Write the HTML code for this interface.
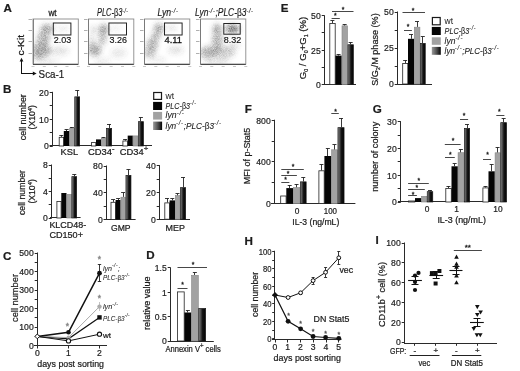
<!DOCTYPE html>
<html><head><meta charset="utf-8"><style>
html,body{margin:0;padding:0;background:#fff;}
svg{display:block;font-family:"Liberation Sans",sans-serif;will-change:transform;}
text{stroke-width:0.22px;}
</style></head><body>
<svg width="520" height="371" viewBox="0 0 520 371">
<rect width="520" height="371" fill="#fff"/>
<defs>
<linearGradient id="dg" x1="0" x2="1" y1="0" y2="0">
<stop offset="0" stop-color="#8c8c8c"/><stop offset="0.3" stop-color="#4a4a4a"/><stop offset="0.55" stop-color="#151515"/><stop offset="1" stop-color="#030303"/>
</linearGradient>
<linearGradient id="dgl" x1="0" x2="1" y1="0" y2="0">
<stop offset="0" stop-color="#9a9a9a"/><stop offset="0.5" stop-color="#555"/><stop offset="1" stop-color="#050505"/>
</linearGradient>
<filter id="blur" x="-20%" y="-20%" width="140%" height="140%"><feGaussianBlur in="SourceGraphic" stdDeviation="2.6" result="b"/><feTurbulence type="fractalNoise" baseFrequency="1.6" numOctaves="1" seed="7" result="n"/><feColorMatrix in="n" type="matrix" values="0 0 0 0 0  0 0 0 0 0  0 0 0 0 0  1.0 0 0 0 0.12" result="na"/><feComposite in="b" in2="na" operator="in" result="c"/><feGaussianBlur in="c" stdDeviation="0.45"/></filter>
<clipPath id="clipA0"><rect x="33" y="19" width="45.3" height="45"/></clipPath><clipPath id="clipA1"><rect x="88.5" y="19" width="45.3" height="45"/></clipPath><clipPath id="clipA2"><rect x="144.5" y="19" width="45.3" height="45"/></clipPath><clipPath id="clipA3"><rect x="200.5" y="19" width="45.3" height="45"/></clipPath></defs>
<text x="3.4" y="11.6" font-size="11.6" text-anchor="start" fill="#1c1c1c" stroke="#1c1c1c" font-weight="bold">A</text>
<g filter="url(#blur)" clip-path="url(#clipA0)">
<ellipse cx="47" cy="28.5" rx="6.5" ry="4" fill="#333" opacity="0.68" transform="rotate(0 47 28.5)"/>
<ellipse cx="43.5" cy="38" rx="6.5" ry="7" fill="#333" opacity="0.544" transform="rotate(15 43.5 38)"/>
<ellipse cx="41" cy="50" rx="9.5" ry="7.5" fill="#333" opacity="0.612" transform="rotate(0 41 50)"/>
<ellipse cx="37" cy="56" rx="5" ry="4" fill="#333" opacity="0.34" transform="rotate(0 37 56)"/>
<ellipse cx="59" cy="51" rx="10" ry="4.5" fill="#333" opacity="0.204" transform="rotate(0 59 51)"/>
<ellipse cx="63" cy="29" rx="5" ry="2.5" fill="#333" opacity="0.204" transform="rotate(0 63 29)"/>
<ellipse cx="48" cy="61" rx="11" ry="3" fill="#333" opacity="0.17" transform="rotate(0 48 61)"/>
</g>
<rect x="33" y="19" width="45.3" height="45" fill="none" stroke="#8a8a8a" stroke-width="0.9"/>
<line x1="33.5" y1="19" x2="33.5" y2="64" stroke="#777" stroke-width="0.9"/>
<line x1="33" y1="64.5" x2="78.3" y2="64.5" stroke="#4a4a4a" stroke-width="1.0"/>
<rect x="53.3" y="23" width="17.6" height="12" fill="none" stroke="#1a1a1a" stroke-width="0.95"/>
<text x="62.6" y="43.2" font-size="9.8" text-anchor="middle" fill="#111" stroke="#111" textLength="17.5" lengthAdjust="spacingAndGlyphs" style="stroke-width:0.15px">2.03</text>
<line x1="28.5" y1="19.5" x2="32" y2="19.5" stroke="#b0b0b0" stroke-width="1.0"/>
<line x1="28.5" y1="30.5" x2="32" y2="30.5" stroke="#b0b0b0" stroke-width="1.0"/>
<line x1="28.5" y1="41.5" x2="32" y2="41.5" stroke="#b0b0b0" stroke-width="1.0"/>
<line x1="28.5" y1="53.5" x2="32" y2="53.5" stroke="#b0b0b0" stroke-width="1.0"/>
<line x1="31.5" y1="66.5" x2="34.5" y2="66.5" stroke="#c8c8c8" stroke-width="1.0"/>
<line x1="42.825" y1="66.5" x2="45.825" y2="66.5" stroke="#c8c8c8" stroke-width="1.0"/>
<line x1="54.15" y1="66.5" x2="57.15" y2="66.5" stroke="#c8c8c8" stroke-width="1.0"/>
<line x1="65.475" y1="66.5" x2="68.475" y2="66.5" stroke="#c8c8c8" stroke-width="1.0"/>
<line x1="76.8" y1="66.5" x2="79.8" y2="66.5" stroke="#c8c8c8" stroke-width="1.0"/>
<g filter="url(#blur)" clip-path="url(#clipA1)">
<ellipse cx="103.5" cy="29" rx="4.5" ry="4.5" fill="#333" opacity="0.714" transform="rotate(0 103.5 29)"/>
<ellipse cx="102.5" cy="38" rx="4" ry="7" fill="#333" opacity="0.47600000000000003" transform="rotate(0 102.5 38)"/>
<ellipse cx="93.5" cy="30" rx="3.5" ry="4" fill="#333" opacity="0.23800000000000002" transform="rotate(0 93.5 30)"/>
<ellipse cx="94.5" cy="50" rx="7" ry="6" fill="#333" opacity="0.612" transform="rotate(0 94.5 50)"/>
<ellipse cx="91.5" cy="41" rx="3" ry="6" fill="#333" opacity="0.272" transform="rotate(0 91.5 41)"/>
<ellipse cx="118.5" cy="53" rx="8" ry="5" fill="#333" opacity="0.17" transform="rotate(0 118.5 53)"/>
<ellipse cx="115.5" cy="28" rx="5" ry="2.5" fill="#333" opacity="0.17" transform="rotate(0 115.5 28)"/>
<ellipse cx="102.5" cy="61" rx="8" ry="3" fill="#333" opacity="0.17" transform="rotate(0 102.5 61)"/>
</g>
<rect x="88.5" y="19" width="45.3" height="45" fill="none" stroke="#8a8a8a" stroke-width="0.9"/>
<line x1="88.5" y1="19" x2="88.5" y2="64" stroke="#777" stroke-width="0.9"/>
<line x1="88.5" y1="64.5" x2="133.8" y2="64.5" stroke="#4a4a4a" stroke-width="1.0"/>
<rect x="108.9" y="23" width="17.6" height="12" fill="none" stroke="#1a1a1a" stroke-width="0.95"/>
<text x="118.3" y="43.2" font-size="9.8" text-anchor="middle" fill="#111" stroke="#111" textLength="17.5" lengthAdjust="spacingAndGlyphs" style="stroke-width:0.15px">3.26</text>
<line x1="84.0" y1="19.5" x2="87.5" y2="19.5" stroke="#b0b0b0" stroke-width="1.0"/>
<line x1="84.0" y1="30.5" x2="87.5" y2="30.5" stroke="#b0b0b0" stroke-width="1.0"/>
<line x1="84.0" y1="41.5" x2="87.5" y2="41.5" stroke="#b0b0b0" stroke-width="1.0"/>
<line x1="84.0" y1="53.5" x2="87.5" y2="53.5" stroke="#b0b0b0" stroke-width="1.0"/>
<line x1="87.0" y1="66.5" x2="90.0" y2="66.5" stroke="#c8c8c8" stroke-width="1.0"/>
<line x1="98.325" y1="66.5" x2="101.325" y2="66.5" stroke="#c8c8c8" stroke-width="1.0"/>
<line x1="109.65" y1="66.5" x2="112.65" y2="66.5" stroke="#c8c8c8" stroke-width="1.0"/>
<line x1="120.975" y1="66.5" x2="123.975" y2="66.5" stroke="#c8c8c8" stroke-width="1.0"/>
<line x1="132.3" y1="66.5" x2="135.3" y2="66.5" stroke="#c8c8c8" stroke-width="1.0"/>
<g filter="url(#blur)" clip-path="url(#clipA2)">
<ellipse cx="159.0" cy="28" rx="5" ry="4.5" fill="#333" opacity="0.612" transform="rotate(0 159.0 28)"/>
<ellipse cx="156.0" cy="36" rx="4.5" ry="6" fill="#333" opacity="0.47600000000000003" transform="rotate(30 156.0 36)"/>
<ellipse cx="152.0" cy="45" rx="6" ry="6" fill="#333" opacity="0.51" transform="rotate(0 152.0 45)"/>
<ellipse cx="149.5" cy="53" rx="6" ry="5" fill="#333" opacity="0.442" transform="rotate(0 149.5 53)"/>
<ellipse cx="175.5" cy="50" rx="8" ry="4" fill="#333" opacity="0.221" transform="rotate(0 175.5 50)"/>
<ellipse cx="171.5" cy="28" rx="5" ry="2.5" fill="#333" opacity="0.221" transform="rotate(0 171.5 28)"/>
<ellipse cx="158.5" cy="60" rx="8" ry="3" fill="#333" opacity="0.136" transform="rotate(0 158.5 60)"/>
</g>
<rect x="144.5" y="19" width="45.3" height="45" fill="none" stroke="#8a8a8a" stroke-width="0.9"/>
<line x1="144.5" y1="19" x2="144.5" y2="64" stroke="#777" stroke-width="0.9"/>
<line x1="144.5" y1="64.5" x2="189.8" y2="64.5" stroke="#4a4a4a" stroke-width="1.0"/>
<rect x="164.5" y="23" width="17.6" height="12" fill="none" stroke="#1a1a1a" stroke-width="0.95"/>
<text x="173.3" y="43.2" font-size="9.8" text-anchor="middle" fill="#111" stroke="#111" textLength="17.5" lengthAdjust="spacingAndGlyphs" style="stroke-width:0.3px">4.11</text>
<line x1="140.0" y1="19.5" x2="143.5" y2="19.5" stroke="#b0b0b0" stroke-width="1.0"/>
<line x1="140.0" y1="30.5" x2="143.5" y2="30.5" stroke="#b0b0b0" stroke-width="1.0"/>
<line x1="140.0" y1="41.5" x2="143.5" y2="41.5" stroke="#b0b0b0" stroke-width="1.0"/>
<line x1="140.0" y1="53.5" x2="143.5" y2="53.5" stroke="#b0b0b0" stroke-width="1.0"/>
<line x1="143.0" y1="66.5" x2="146.0" y2="66.5" stroke="#c8c8c8" stroke-width="1.0"/>
<line x1="154.325" y1="66.5" x2="157.325" y2="66.5" stroke="#c8c8c8" stroke-width="1.0"/>
<line x1="165.65" y1="66.5" x2="168.65" y2="66.5" stroke="#c8c8c8" stroke-width="1.0"/>
<line x1="176.975" y1="66.5" x2="179.975" y2="66.5" stroke="#c8c8c8" stroke-width="1.0"/>
<line x1="188.3" y1="66.5" x2="191.3" y2="66.5" stroke="#c8c8c8" stroke-width="1.0"/>
<g filter="url(#blur)" clip-path="url(#clipA3)">
<ellipse cx="217.0" cy="29" rx="4.5" ry="5" fill="#333" opacity="0.5780000000000001" transform="rotate(0 217.0 29)"/>
<ellipse cx="217.5" cy="40" rx="5.5" ry="8" fill="#333" opacity="0.544" transform="rotate(0 217.5 40)"/>
<ellipse cx="209.5" cy="52" rx="10" ry="6" fill="#333" opacity="0.544" transform="rotate(-10 209.5 52)"/>
<ellipse cx="224.5" cy="52" rx="11" ry="6" fill="#333" opacity="0.374" transform="rotate(0 224.5 52)"/>
<ellipse cx="232.5" cy="29" rx="7" ry="4" fill="#333" opacity="1" transform="rotate(0 232.5 29)"/>
<ellipse cx="216.5" cy="61" rx="13" ry="3" fill="#333" opacity="0.23800000000000002" transform="rotate(0 216.5 61)"/>
<ellipse cx="234.5" cy="45" rx="5" ry="4" fill="#333" opacity="0.204" transform="rotate(0 234.5 45)"/>
</g>
<rect x="200.5" y="19" width="45.3" height="45" fill="none" stroke="#8a8a8a" stroke-width="0.9"/>
<line x1="200.5" y1="19" x2="200.5" y2="64" stroke="#777" stroke-width="0.9"/>
<line x1="200.5" y1="64.5" x2="245.8" y2="64.5" stroke="#4a4a4a" stroke-width="1.0"/>
<rect x="223.8" y="23.5" width="16.4" height="10.7" fill="none" stroke="#1a1a1a" stroke-width="0.95"/>
<text x="232.6" y="43.2" font-size="9.8" text-anchor="middle" fill="#111" stroke="#111" textLength="17.5" lengthAdjust="spacingAndGlyphs" style="stroke-width:0.15px">8.32</text>
<line x1="196.0" y1="19.5" x2="199.5" y2="19.5" stroke="#b0b0b0" stroke-width="1.0"/>
<line x1="196.0" y1="30.5" x2="199.5" y2="30.5" stroke="#b0b0b0" stroke-width="1.0"/>
<line x1="196.0" y1="41.5" x2="199.5" y2="41.5" stroke="#b0b0b0" stroke-width="1.0"/>
<line x1="196.0" y1="53.5" x2="199.5" y2="53.5" stroke="#b0b0b0" stroke-width="1.0"/>
<line x1="199.0" y1="66.5" x2="202.0" y2="66.5" stroke="#c8c8c8" stroke-width="1.0"/>
<line x1="210.325" y1="66.5" x2="213.325" y2="66.5" stroke="#c8c8c8" stroke-width="1.0"/>
<line x1="221.65" y1="66.5" x2="224.65" y2="66.5" stroke="#c8c8c8" stroke-width="1.0"/>
<line x1="232.975" y1="66.5" x2="235.975" y2="66.5" stroke="#c8c8c8" stroke-width="1.0"/>
<line x1="244.3" y1="66.5" x2="247.3" y2="66.5" stroke="#c8c8c8" stroke-width="1.0"/>
<text x="48.4" y="16.0" font-size="9.6" text-anchor="start" fill="#1c1c1c" stroke="#1c1c1c" textLength="8.2" lengthAdjust="spacingAndGlyphs" style="stroke-width:0.3px">wt</text>
<text x="97" y="16.4" font-size="10" text-anchor="start" fill="#1c1c1c" stroke="#1c1c1c" font-style="italic" textLength="31.5" lengthAdjust="spacingAndGlyphs" style="stroke-width:0.15px">PLC-<tspan font-style="normal">β</tspan>3<tspan font-size="6.6" dy="-3.8" letter-spacing="0.7">-/-</tspan></text>
<text x="157.4" y="16.4" font-size="10" text-anchor="start" fill="#1c1c1c" stroke="#1c1c1c" font-style="italic" textLength="21" lengthAdjust="spacingAndGlyphs" style="stroke-width:0.15px">Lyn<tspan font-size="6.6" dy="-3.8" letter-spacing="0.7">-/-</tspan></text>
<text x="195" y="16.4" font-size="10" text-anchor="start" fill="#1c1c1c" stroke="#1c1c1c" font-style="italic" textLength="58.5" lengthAdjust="spacingAndGlyphs" style="stroke-width:0.15px">Lyn<tspan font-size="6.6" dy="-3.8" letter-spacing="0.7">-/-</tspan><tspan dy="3.8">;PLC-</tspan><tspan font-style="normal">β</tspan>3<tspan font-size="6.6" dy="-3.8" letter-spacing="0.7">-/-</tspan></text>
<text x="23.9" y="55.5" font-size="9.6" text-anchor="start" fill="#1c1c1c" stroke="#1c1c1c" textLength="20.6" lengthAdjust="spacingAndGlyphs" transform="rotate(-90 23.9 55.5)" style="stroke-width:0.3px">c-Kit</text>
<line x1="21.5" y1="74" x2="21.5" y2="60.5" stroke="#111" stroke-width="1"/>
<path d="M21.5 57.8 L19.6 61.6 L23.4 61.6 Z" fill="#111"/>
<line x1="21" y1="73.5" x2="34" y2="73.5" stroke="#111" stroke-width="1"/>
<path d="M36.6 73.5 L32.8 71.6 L32.8 75.4 Z" fill="#111"/>
<text x="38.6" y="77.6" font-size="10.8" text-anchor="start" fill="#1c1c1c" stroke="#1c1c1c" textLength="25.6" lengthAdjust="spacingAndGlyphs" style="stroke-width:0.2px">Sca-1</text>
<text x="3.0" y="92.60000000000001" font-size="11.6" text-anchor="start" fill="#1c1c1c" stroke="#1c1c1c" font-weight="bold">B</text>
<line x1="52.5" y1="91.8" x2="52.5" y2="146.5" stroke="#2a2a2a" stroke-width="1"/>
<line x1="49.7" y1="92.5" x2="52.5" y2="92.5" stroke="#2a2a2a" stroke-width="1"/>
<text x="48.7" y="95.695" font-size="9" text-anchor="end" fill="#1c1c1c" stroke="#1c1c1c" textLength="9.6" lengthAdjust="spacingAndGlyphs" style="stroke-width:0.2px">20</text>
<line x1="49.7" y1="119.5" x2="52.5" y2="119.5" stroke="#2a2a2a" stroke-width="1"/>
<text x="48.7" y="122.695" font-size="9" text-anchor="end" fill="#1c1c1c" stroke="#1c1c1c" textLength="9.6" lengthAdjust="spacingAndGlyphs" style="stroke-width:0.2px">10</text>
<line x1="49.7" y1="146.5" x2="52.5" y2="146.5" stroke="#2a2a2a" stroke-width="1"/>
<text x="48.7" y="149.39499999999998" font-size="9" text-anchor="end" fill="#1c1c1c" stroke="#1c1c1c" textLength="4.8" lengthAdjust="spacingAndGlyphs" style="stroke-width:0.2px">0</text>
<line x1="49.7" y1="105.5" x2="52.5" y2="105.5" stroke="#2a2a2a" stroke-width="1"/>
<line x1="49.7" y1="132.5" x2="52.5" y2="132.5" stroke="#2a2a2a" stroke-width="1"/>
<line x1="49.5" y1="145.5" x2="152" y2="145.5" stroke="#2a2a2a" stroke-width="1"/>
<text x="25.6" y="117.2" font-size="8.6" text-anchor="middle" fill="#1c1c1c" stroke="#1c1c1c" textLength="46" lengthAdjust="spacingAndGlyphs" transform="rotate(-90 25.6 117.2)">cell number</text>
<text x="35.3" y="117.2" font-size="8.6" text-anchor="middle" fill="#1c1c1c" stroke="#1c1c1c" textLength="24.4" lengthAdjust="spacingAndGlyphs" transform="rotate(-90 35.3 117.2)">(X10<tspan font-size="5.8" dy="-3.2">4</tspan><tspan dy="3.2">)</tspan></text>
<rect x="59.199999999999996" y="137.3" width="4.4" height="8.699999999999994" fill="#fff" stroke="#222" stroke-width="0.8"/>
<line x1="61.5" y1="135" x2="61.5" y2="136.9" stroke="#222" stroke-width="0.9"/>
<line x1="59.3" y1="135.5" x2="63.3" y2="135.5" stroke="#222" stroke-width="0.9"/>
<rect x="63.8" y="131" width="5.6000000000000085" height="15" fill="#050505"/>
<line x1="66.5" y1="129.4" x2="66.5" y2="131" stroke="#222" stroke-width="0.9"/>
<line x1="64.6" y1="129.5" x2="68.6" y2="129.5" stroke="#222" stroke-width="0.9"/>
<rect x="69.7" y="128.3" width="4.6" height="17.7" fill="#a2a2a2" stroke="#858585" stroke-width="0.6"/>
<line x1="71.5" y1="127" x2="71.5" y2="128" stroke="#222" stroke-width="0.9"/>
<line x1="69.9" y1="127.5" x2="73.9" y2="127.5" stroke="#222" stroke-width="0.9"/>
<rect x="74.75" y="96.85" width="4.899999999999994" height="49.15" fill="url(#dg)" stroke="#1a1a1a" stroke-width="0.7"/>
<line x1="77.5" y1="90.3" x2="77.5" y2="96.5" stroke="#222" stroke-width="0.9"/>
<line x1="75.2" y1="90.5" x2="79.2" y2="90.5" stroke="#222" stroke-width="0.9"/>
<rect x="91.4" y="142.6" width="4.4" height="3.4000000000000115" fill="#fff" stroke="#222" stroke-width="0.8"/>
<rect x="96" y="139.4" width="5" height="6.599999999999994" fill="#050505"/>
<rect x="101.3" y="138.3" width="4.6" height="7.7" fill="#a2a2a2" stroke="#858585" stroke-width="0.6"/>
<line x1="103.5" y1="137" x2="103.5" y2="138" stroke="#222" stroke-width="0.9"/>
<line x1="101.5" y1="137.5" x2="105.5" y2="137.5" stroke="#222" stroke-width="0.9"/>
<rect x="106.35" y="128.35" width="5.3" height="17.65" fill="url(#dg)" stroke="#1a1a1a" stroke-width="0.7"/>
<line x1="109.5" y1="124" x2="109.5" y2="128" stroke="#222" stroke-width="0.9"/>
<line x1="107.0" y1="124.5" x2="111.0" y2="124.5" stroke="#222" stroke-width="0.9"/>
<rect x="122.9" y="141.0" width="4.600000000000003" height="5.000000000000005" fill="#fff" stroke="#222" stroke-width="0.8"/>
<line x1="125.5" y1="139.3" x2="125.5" y2="140.6" stroke="#222" stroke-width="0.9"/>
<line x1="123.1" y1="139.5" x2="127.1" y2="139.5" stroke="#222" stroke-width="0.9"/>
<rect x="127.7" y="135.6" width="5.1000000000000085" height="10.400000000000006" fill="#050505"/>
<rect x="133.10000000000002" y="135.9" width="4.799999999999988" height="10.100000000000005" fill="#a2a2a2" stroke="#858585" stroke-width="0.6"/>
<rect x="138.35" y="121.64999999999999" width="5.100000000000011" height="24.35" fill="url(#dg)" stroke="#1a1a1a" stroke-width="0.7"/>
<line x1="140.5" y1="117.5" x2="140.5" y2="121.3" stroke="#222" stroke-width="0.9"/>
<line x1="138.9" y1="117.5" x2="142.9" y2="117.5" stroke="#222" stroke-width="0.9"/>
<text x="69.3" y="155.2" font-size="9" text-anchor="middle" fill="#1c1c1c" stroke="#1c1c1c" textLength="17.6" lengthAdjust="spacingAndGlyphs">KSL</text>
<text x="88" y="155.2" font-size="8.8" text-anchor="start" fill="#1c1c1c" stroke="#1c1c1c" textLength="26.5" lengthAdjust="spacingAndGlyphs">CD34<tspan font-size="7" dy="-3.8">-</tspan></text>
<text x="119.8" y="155.2" font-size="8.8" text-anchor="start" fill="#1c1c1c" stroke="#1c1c1c" textLength="28.5" lengthAdjust="spacingAndGlyphs">CD34<tspan font-size="7.4" dy="-3.8">+</tspan></text>
<rect x="153.7" y="92.5" width="7.8" height="6.899999999999994" fill="#fff" stroke="#1a1a1a" stroke-width="1.2"/>
<rect x="153.1" y="101.9" width="9" height="8.099999999999994" fill="#050505"/>
<rect x="153.1" y="111.9" width="9" height="7.699999999999989" fill="#a2a2a2"/>
<rect x="153.1" y="121.6" width="9" height="8.400000000000006" fill="url(#dgl)"/>
<text x="165.6" y="98.8" font-size="8.8" text-anchor="start" fill="#1c1c1c" stroke="#1c1c1c" textLength="8.5" lengthAdjust="spacingAndGlyphs" style="stroke-width:0.02px">wt</text>
<text x="165.6" y="108.8" font-size="8.8" text-anchor="start" fill="#1c1c1c" stroke="#1c1c1c" font-style="italic" textLength="31" lengthAdjust="spacingAndGlyphs" style="stroke-width:0.1px">PLC-<tspan font-style="normal">β</tspan>3<tspan font-size="6.34" dy="-3.7" letter-spacing="0.7">-/-</tspan></text>
<text x="165.6" y="118.39999999999999" font-size="8.8" text-anchor="start" fill="#1c1c1c" stroke="#1c1c1c" font-style="italic" textLength="19" lengthAdjust="spacingAndGlyphs" style="stroke-width:0.1px">lyn<tspan font-size="6.34" dy="-3.7" letter-spacing="0.7">-/-</tspan></text>
<text x="165.6" y="128.8" font-size="8.8" text-anchor="start" fill="#1c1c1c" stroke="#1c1c1c" font-style="italic" textLength="56" lengthAdjust="spacingAndGlyphs" style="stroke-width:0.1px">lyn<tspan font-size="6.34" dy="-3.7" letter-spacing="0.7">-/-</tspan><tspan dy="3.7">;PLC-</tspan><tspan font-style="normal">β</tspan>3<tspan font-size="6.34" dy="-3.7" letter-spacing="0.7">-/-</tspan></text>
<line x1="51.5" y1="164.5" x2="51.5" y2="218.5" stroke="#2a2a2a" stroke-width="1"/>
<line x1="48.7" y1="165.5" x2="51.5" y2="165.5" stroke="#2a2a2a" stroke-width="1"/>
<text x="47.7" y="168.39499999999998" font-size="9" text-anchor="end" fill="#1c1c1c" stroke="#1c1c1c" textLength="4.8" lengthAdjust="spacingAndGlyphs" style="stroke-width:0.2px">8</text>
<line x1="48.7" y1="191.5" x2="51.5" y2="191.5" stroke="#2a2a2a" stroke-width="1"/>
<text x="47.7" y="194.695" font-size="9" text-anchor="end" fill="#1c1c1c" stroke="#1c1c1c" textLength="4.8" lengthAdjust="spacingAndGlyphs" style="stroke-width:0.2px">4</text>
<line x1="48.7" y1="218.5" x2="51.5" y2="218.5" stroke="#2a2a2a" stroke-width="1"/>
<text x="47.7" y="221.39499999999998" font-size="9" text-anchor="end" fill="#1c1c1c" stroke="#1c1c1c" textLength="4.8" lengthAdjust="spacingAndGlyphs" style="stroke-width:0.2px">0</text>
<line x1="48.7" y1="178.5" x2="51.5" y2="178.5" stroke="#2a2a2a" stroke-width="1"/>
<line x1="48.7" y1="204.5" x2="51.5" y2="204.5" stroke="#2a2a2a" stroke-width="1"/>
<line x1="50" y1="217.5" x2="80.6" y2="217.5" stroke="#2a2a2a" stroke-width="1"/>
<text x="25.2" y="192.5" font-size="8.6" text-anchor="middle" fill="#1c1c1c" stroke="#1c1c1c" textLength="45" lengthAdjust="spacingAndGlyphs" transform="rotate(-90 25.2 192.5)">cell number</text>
<text x="35.3" y="191.4" font-size="8.6" text-anchor="middle" fill="#1c1c1c" stroke="#1c1c1c" textLength="24.4" lengthAdjust="spacingAndGlyphs" transform="rotate(-90 35.3 191.4)">(X10<tspan font-size="5.8" dy="-3.2">4</tspan><tspan dy="3.2">)</tspan></text>
<rect x="56.9" y="201.4" width="4.1999999999999975" height="16.6" fill="#fff" stroke="#222" stroke-width="0.8"/>
<rect x="61.3" y="193" width="5.200000000000003" height="25" fill="#050505"/>
<rect x="66.8" y="194.3" width="4.6" height="23.7" fill="#a2a2a2" stroke="#858585" stroke-width="0.6"/>
<rect x="71.85" y="176.65" width="4.8" height="41.34999999999999" fill="url(#dg)" stroke="#1a1a1a" stroke-width="0.7"/>
<line x1="74.5" y1="174.4" x2="74.5" y2="176.3" stroke="#222" stroke-width="0.9"/>
<line x1="72.25" y1="174.5" x2="76.25" y2="174.5" stroke="#222" stroke-width="0.9"/>
<text x="49.4" y="227.9" font-size="8.8" text-anchor="start" fill="#1c1c1c" stroke="#1c1c1c" textLength="36.8" lengthAdjust="spacingAndGlyphs">KLCD48-</text>
<text x="49.4" y="238.1" font-size="8.8" text-anchor="start" fill="#1c1c1c" stroke="#1c1c1c" textLength="33.6" lengthAdjust="spacingAndGlyphs">CD150+</text>
<line x1="106.5" y1="165.5" x2="106.5" y2="219.9" stroke="#2a2a2a" stroke-width="1"/>
<line x1="103.7" y1="166.5" x2="106.5" y2="166.5" stroke="#2a2a2a" stroke-width="1"/>
<text x="102.7" y="169.39499999999998" font-size="9" text-anchor="end" fill="#1c1c1c" stroke="#1c1c1c" textLength="9.6" lengthAdjust="spacingAndGlyphs" style="stroke-width:0.2px">80</text>
<line x1="103.7" y1="192.5" x2="106.5" y2="192.5" stroke="#2a2a2a" stroke-width="1"/>
<text x="102.7" y="195.99499999999998" font-size="9" text-anchor="end" fill="#1c1c1c" stroke="#1c1c1c" textLength="9.6" lengthAdjust="spacingAndGlyphs" style="stroke-width:0.2px">40</text>
<line x1="103.7" y1="219.5" x2="106.5" y2="219.5" stroke="#2a2a2a" stroke-width="1"/>
<text x="102.7" y="222.795" font-size="9" text-anchor="end" fill="#1c1c1c" stroke="#1c1c1c" textLength="4.8" lengthAdjust="spacingAndGlyphs" style="stroke-width:0.2px">0</text>
<line x1="103.7" y1="179.5" x2="106.5" y2="179.5" stroke="#2a2a2a" stroke-width="1"/>
<line x1="103.7" y1="206.5" x2="106.5" y2="206.5" stroke="#2a2a2a" stroke-width="1"/>
<line x1="103.8" y1="219.5" x2="135.6" y2="219.5" stroke="#2a2a2a" stroke-width="1"/>
<rect x="111.0" y="202.3" width="4.4" height="17.1" fill="#fff" stroke="#222" stroke-width="0.8"/>
<line x1="113.5" y1="199.8" x2="113.5" y2="201.9" stroke="#222" stroke-width="0.9"/>
<line x1="111.1" y1="199.5" x2="115.1" y2="199.5" stroke="#222" stroke-width="0.9"/>
<rect x="115.6" y="200" width="5.0" height="19.400000000000006" fill="#050505"/>
<line x1="118.5" y1="198.8" x2="118.5" y2="200" stroke="#222" stroke-width="0.9"/>
<line x1="116.1" y1="198.5" x2="120.1" y2="198.5" stroke="#222" stroke-width="0.9"/>
<rect x="120.89999999999999" y="197.20000000000002" width="4.6" height="22.2" fill="#a2a2a2" stroke="#858585" stroke-width="0.6"/>
<line x1="123.5" y1="192.8" x2="123.5" y2="196.9" stroke="#222" stroke-width="0.9"/>
<line x1="121.1" y1="192.5" x2="125.1" y2="192.5" stroke="#222" stroke-width="0.9"/>
<rect x="125.94999999999999" y="175.35" width="5.000000000000017" height="44.050000000000004" fill="url(#dg)" stroke="#1a1a1a" stroke-width="0.7"/>
<line x1="128.5" y1="169.4" x2="128.5" y2="175" stroke="#222" stroke-width="0.9"/>
<line x1="126.44999999999999" y1="169.5" x2="130.45" y2="169.5" stroke="#222" stroke-width="0.9"/>
<text x="120.8" y="230.7" font-size="8.8" text-anchor="middle" fill="#1c1c1c" stroke="#1c1c1c" textLength="19.6" lengthAdjust="spacingAndGlyphs">GMP</text>
<line x1="159.5" y1="165.1" x2="159.5" y2="219.7" stroke="#2a2a2a" stroke-width="1"/>
<line x1="156.7" y1="165.5" x2="159.5" y2="165.5" stroke="#2a2a2a" stroke-width="1"/>
<text x="155.7" y="168.99499999999998" font-size="9" text-anchor="end" fill="#1c1c1c" stroke="#1c1c1c" textLength="9.6" lengthAdjust="spacingAndGlyphs" style="stroke-width:0.2px">40</text>
<line x1="156.7" y1="192.5" x2="159.5" y2="192.5" stroke="#2a2a2a" stroke-width="1"/>
<text x="155.7" y="195.795" font-size="9" text-anchor="end" fill="#1c1c1c" stroke="#1c1c1c" textLength="9.6" lengthAdjust="spacingAndGlyphs" style="stroke-width:0.2px">20</text>
<line x1="156.7" y1="219.5" x2="159.5" y2="219.5" stroke="#2a2a2a" stroke-width="1"/>
<text x="155.7" y="222.59499999999997" font-size="9" text-anchor="end" fill="#1c1c1c" stroke="#1c1c1c" textLength="4.8" lengthAdjust="spacingAndGlyphs" style="stroke-width:0.2px">0</text>
<line x1="156.7" y1="179.5" x2="159.5" y2="179.5" stroke="#2a2a2a" stroke-width="1"/>
<line x1="156.7" y1="206.5" x2="159.5" y2="206.5" stroke="#2a2a2a" stroke-width="1"/>
<line x1="157" y1="219.5" x2="190" y2="219.5" stroke="#2a2a2a" stroke-width="1"/>
<rect x="164.8" y="202.9" width="4.599999999999989" height="16.29999999999999" fill="#fff" stroke="#222" stroke-width="0.8"/>
<line x1="167.5" y1="198.5" x2="167.5" y2="202.5" stroke="#222" stroke-width="0.9"/>
<line x1="165.0" y1="198.5" x2="169.0" y2="198.5" stroke="#222" stroke-width="0.9"/>
<rect x="169.6" y="200.4" width="5.400000000000006" height="18.799999999999983" fill="#050505"/>
<line x1="172.5" y1="198.5" x2="172.5" y2="200.4" stroke="#222" stroke-width="0.9"/>
<line x1="170.3" y1="198.5" x2="174.3" y2="198.5" stroke="#222" stroke-width="0.9"/>
<rect x="175.3" y="195.60000000000002" width="4.6" height="23.599999999999977" fill="#a2a2a2" stroke="#858585" stroke-width="0.6"/>
<line x1="177.5" y1="193.5" x2="177.5" y2="195.3" stroke="#222" stroke-width="0.9"/>
<line x1="175.5" y1="193.5" x2="179.5" y2="193.5" stroke="#222" stroke-width="0.9"/>
<rect x="180.35" y="187.65" width="5.3" height="31.549999999999976" fill="url(#dg)" stroke="#1a1a1a" stroke-width="0.7"/>
<line x1="183.5" y1="177.3" x2="183.5" y2="187.3" stroke="#222" stroke-width="0.9"/>
<line x1="181.0" y1="177.5" x2="185.0" y2="177.5" stroke="#222" stroke-width="0.9"/>
<text x="175.2" y="230.7" font-size="8.8" text-anchor="middle" fill="#1c1c1c" stroke="#1c1c1c" textLength="19.4" lengthAdjust="spacingAndGlyphs">MEP</text>
<text x="3.0" y="259.59999999999997" font-size="11.6" text-anchor="start" fill="#1c1c1c" stroke="#1c1c1c" font-weight="bold">C</text>
<line x1="37.5" y1="252.5" x2="37.5" y2="346.1" stroke="#2a2a2a" stroke-width="1"/>
<line x1="34.7" y1="253.5" x2="37.5" y2="253.5" stroke="#2a2a2a" stroke-width="1"/>
<text x="33.7" y="256.395" font-size="9" text-anchor="end" fill="#1c1c1c" stroke="#1c1c1c" textLength="14.399999999999999" lengthAdjust="spacingAndGlyphs" style="stroke-width:0.2px">500</text>
<line x1="34.7" y1="271.5" x2="37.5" y2="271.5" stroke="#2a2a2a" stroke-width="1"/>
<text x="33.7" y="274.915" font-size="9" text-anchor="end" fill="#1c1c1c" stroke="#1c1c1c" textLength="14.399999999999999" lengthAdjust="spacingAndGlyphs" style="stroke-width:0.2px">400</text>
<line x1="34.7" y1="290.5" x2="37.5" y2="290.5" stroke="#2a2a2a" stroke-width="1"/>
<text x="33.7" y="293.435" font-size="9" text-anchor="end" fill="#1c1c1c" stroke="#1c1c1c" textLength="14.399999999999999" lengthAdjust="spacingAndGlyphs" style="stroke-width:0.2px">300</text>
<line x1="34.7" y1="308.5" x2="37.5" y2="308.5" stroke="#2a2a2a" stroke-width="1"/>
<text x="33.7" y="311.955" font-size="9" text-anchor="end" fill="#1c1c1c" stroke="#1c1c1c" textLength="14.399999999999999" lengthAdjust="spacingAndGlyphs" style="stroke-width:0.2px">200</text>
<line x1="34.7" y1="327.5" x2="37.5" y2="327.5" stroke="#2a2a2a" stroke-width="1"/>
<text x="33.7" y="330.475" font-size="9" text-anchor="end" fill="#1c1c1c" stroke="#1c1c1c" textLength="14.399999999999999" lengthAdjust="spacingAndGlyphs" style="stroke-width:0.2px">100</text>
<line x1="34.7" y1="345.5" x2="37.5" y2="345.5" stroke="#2a2a2a" stroke-width="1"/>
<text x="33.7" y="348.995" font-size="9" text-anchor="end" fill="#1c1c1c" stroke="#1c1c1c" textLength="4.8" lengthAdjust="spacingAndGlyphs" style="stroke-width:0.2px">0</text>
<line x1="34.7" y1="262.5" x2="37.5" y2="262.5" stroke="#2a2a2a" stroke-width="1"/>
<line x1="34.7" y1="280.5" x2="37.5" y2="280.5" stroke="#2a2a2a" stroke-width="1"/>
<line x1="34.7" y1="299.5" x2="37.5" y2="299.5" stroke="#2a2a2a" stroke-width="1"/>
<line x1="34.7" y1="317.5" x2="37.5" y2="317.5" stroke="#2a2a2a" stroke-width="1"/>
<line x1="34.7" y1="336.5" x2="37.5" y2="336.5" stroke="#2a2a2a" stroke-width="1"/>
<line x1="33.8" y1="345.5" x2="107" y2="345.5" stroke="#2a2a2a" stroke-width="1"/>
<line x1="37.5" y1="345.6" x2="37.5" y2="348.5" stroke="#2a2a2a" stroke-width="1"/>
<text x="37.3" y="356.4" font-size="8.6" text-anchor="middle" fill="#1c1c1c" stroke="#1c1c1c">0</text>
<line x1="68.5" y1="345.6" x2="68.5" y2="348.5" stroke="#2a2a2a" stroke-width="1"/>
<text x="68.5" y="356.4" font-size="8.6" text-anchor="middle" fill="#1c1c1c" stroke="#1c1c1c">1</text>
<line x1="99.5" y1="345.6" x2="99.5" y2="348.5" stroke="#2a2a2a" stroke-width="1"/>
<text x="99.5" y="356.4" font-size="8.6" text-anchor="middle" fill="#1c1c1c" stroke="#1c1c1c">2</text>
<text x="37.3" y="367.2" font-size="9.4" text-anchor="start" fill="#1c1c1c" stroke="#1c1c1c" textLength="66.7" lengthAdjust="spacingAndGlyphs">days post sorting</text>
<text x="17.8" y="298" font-size="9.2" text-anchor="middle" fill="#1c1c1c" stroke="#1c1c1c" textLength="48" lengthAdjust="spacingAndGlyphs" transform="rotate(-90 17.8 298)">cell number</text>
<polyline points="37.3,336.4 68.5,338.8 99.5,317.4" fill="none" stroke="#111" stroke-width="1.2"/>
<polyline points="37.3,336.4 68.5,337.6 99.5,306.6" fill="none" stroke="#aaa" stroke-width="1.0"/>
<polyline points="37.3,336.4 68.5,340.9 99.5,334.2" fill="none" stroke="#111" stroke-width="1.0"/>
<polyline points="37.3,336.4 68.5,332.3 99.5,273.2" fill="none" stroke="#111" stroke-width="1.5"/>
<line x1="99.5" y1="264.3" x2="99.5" y2="281.8" stroke="#222" stroke-width="0.9"/>
<line x1="97.8" y1="264.5" x2="101.2" y2="264.5" stroke="#222" stroke-width="0.9"/>
<line x1="97.8" y1="281.5" x2="101.2" y2="281.5" stroke="#222" stroke-width="0.9"/>
<line x1="99.5" y1="302" x2="99.5" y2="311" stroke="#bbb" stroke-width="0.9"/>
<circle cx="68.5" cy="337.6" r="2" fill="#aaa"/>
<circle cx="99.5" cy="306.6" r="2.2" fill="#aaa"/>
<rect x="97.3" y="315.2" width="4.4" height="4.4" fill="#111"/>
<circle cx="68.5" cy="332.3" r="2.3" fill="#111"/>
<circle cx="99.5" cy="273.2" r="2.4" fill="#111"/>
<circle cx="68.5" cy="340.9" r="2.1" fill="#fff" stroke="#111" stroke-width="1.1"/>
<circle cx="99.5" cy="334.2" r="2.1" fill="#fff" stroke="#111" stroke-width="1.1"/>
<path d="M37.3 334 L39.7 336.4 L37.3 338.8 L34.9 336.4 Z" fill="#fff" stroke="#111" stroke-width="1"/>
<text x="67.4" y="329.40000000000003" font-size="8.5" text-anchor="middle" fill="#8a8a8a" stroke="#8a8a8a" style="stroke-width:0.4px">*</text>
<text x="99.3" y="262.2" font-size="8.5" text-anchor="middle" fill="#8a8a8a" stroke="#8a8a8a" style="stroke-width:0.4px">*</text>
<text x="99.3" y="301.2" font-size="8.5" text-anchor="middle" fill="#8a8a8a" stroke="#8a8a8a" style="stroke-width:0.4px">*</text>
<text x="103" y="270.6" font-size="7.8" text-anchor="start" fill="#1c1c1c" stroke="#1c1c1c" font-style="italic" textLength="17" lengthAdjust="spacingAndGlyphs" style="stroke-width:0.06px">lyn<tspan font-size="5.4" dy="-3.2" letter-spacing="0.5">-/-</tspan><tspan dy="3.2">;</tspan></text>
<text x="103" y="279.8" font-size="7.8" text-anchor="start" fill="#1c1c1c" stroke="#1c1c1c" font-style="italic" textLength="27" lengthAdjust="spacingAndGlyphs" style="stroke-width:0.06px">PLC-<tspan font-style="normal">β</tspan>3<tspan font-size="5.4" dy="-3.2" letter-spacing="0.5">-/-</tspan></text>
<text x="103" y="308.8" font-size="7.8" text-anchor="start" fill="#1c1c1c" stroke="#1c1c1c" font-style="italic" textLength="15.5" lengthAdjust="spacingAndGlyphs" style="stroke-width:0.06px">lyn<tspan font-size="5.4" dy="-3.2" letter-spacing="0.5">-/-</tspan></text>
<text x="103" y="320.6" font-size="7.8" text-anchor="start" fill="#1c1c1c" stroke="#1c1c1c" font-style="italic" textLength="27" lengthAdjust="spacingAndGlyphs" style="stroke-width:0.06px">PLC-<tspan font-style="normal">β</tspan>3<tspan font-size="5.4" dy="-3.2" letter-spacing="0.5">-/-</tspan></text>
<text x="103" y="338" font-size="7.6" text-anchor="start" fill="#1c1c1c" stroke="#1c1c1c" textLength="8" lengthAdjust="spacingAndGlyphs">wt</text>
<text x="146.2" y="259.29999999999995" font-size="11.6" text-anchor="start" fill="#1c1c1c" stroke="#1c1c1c" font-weight="bold">D</text>
<line x1="170.5" y1="267.45" x2="170.5" y2="341.5" stroke="#2a2a2a" stroke-width="1"/>
<line x1="167.7" y1="267.5" x2="170.5" y2="267.5" stroke="#2a2a2a" stroke-width="1"/>
<text x="166.7" y="271.34499999999997" font-size="9" text-anchor="end" fill="#1c1c1c" stroke="#1c1c1c" textLength="11.899999999999999" lengthAdjust="spacingAndGlyphs" style="stroke-width:0.2px">1.5</text>
<line x1="167.7" y1="292.5" x2="170.5" y2="292.5" stroke="#2a2a2a" stroke-width="1"/>
<text x="166.7" y="295.695" font-size="9" text-anchor="end" fill="#1c1c1c" stroke="#1c1c1c" textLength="4.8" lengthAdjust="spacingAndGlyphs" style="stroke-width:0.2px">1</text>
<line x1="167.7" y1="316.5" x2="170.5" y2="316.5" stroke="#2a2a2a" stroke-width="1"/>
<text x="166.7" y="320.04499999999996" font-size="9" text-anchor="end" fill="#1c1c1c" stroke="#1c1c1c" textLength="11.899999999999999" lengthAdjust="spacingAndGlyphs" style="stroke-width:0.2px">0.5</text>
<line x1="167.7" y1="341.5" x2="170.5" y2="341.5" stroke="#2a2a2a" stroke-width="1"/>
<text x="166.7" y="344.395" font-size="9" text-anchor="end" fill="#1c1c1c" stroke="#1c1c1c" textLength="4.8" lengthAdjust="spacingAndGlyphs" style="stroke-width:0.2px">0</text>
<line x1="168.5" y1="341.5" x2="213.8" y2="341.5" stroke="#2a2a2a" stroke-width="1"/>
<rect x="177.4" y="291.9" width="6.800000000000006" height="49.1" fill="#fff" stroke="#222" stroke-width="0.8"/>
<rect x="184.4" y="312.5" width="6.900000000000006" height="28.5" fill="#050505"/>
<line x1="187.5" y1="310.6" x2="187.5" y2="312.5" stroke="#222" stroke-width="0.9"/>
<line x1="185.85000000000002" y1="310.5" x2="189.85000000000002" y2="310.5" stroke="#222" stroke-width="0.9"/>
<rect x="191.60000000000002" y="275.3" width="6.699999999999994" height="65.7" fill="#a2a2a2" stroke="#858585" stroke-width="0.6"/>
<line x1="194.5" y1="272.5" x2="194.5" y2="275" stroke="#222" stroke-width="0.9"/>
<line x1="192.85000000000002" y1="272.5" x2="196.85000000000002" y2="272.5" stroke="#222" stroke-width="0.9"/>
<rect x="198.75" y="308.45000000000005" width="6.899999999999994" height="32.549999999999976" fill="url(#dg)" stroke="#1a1a1a" stroke-width="0.7"/>
<line x1="177.5" y1="267.5" x2="207" y2="267.5" stroke="#333" stroke-width="0.9"/>
<text x="193" y="266.608" font-size="6.8" text-anchor="middle" fill="#1c1c1c" stroke="#1c1c1c" style="stroke-width:0.3px">*</text>
<line x1="177.5" y1="288.5" x2="187.5" y2="288.5" stroke="#333" stroke-width="0.9"/>
<text x="182.5" y="287.408" font-size="6.8" text-anchor="middle" fill="#1c1c1c" stroke="#1c1c1c" style="stroke-width:0.3px">*</text>
<text x="165.4" y="351.8" font-size="8.2" text-anchor="start" fill="#1c1c1c" stroke="#1c1c1c" textLength="55.4" lengthAdjust="spacingAndGlyphs">Annexin V<tspan font-size="6.6" dy="-3.4">+</tspan><tspan dy="3.4"> cells</tspan></text>
<text x="150.2" y="303.2" font-size="8.5" text-anchor="middle" fill="#1c1c1c" stroke="#1c1c1c" textLength="53.4" lengthAdjust="spacingAndGlyphs" transform="rotate(-90 150.2 303.2)">relative value</text>
<text x="280.8" y="11.6" font-size="11.6" text-anchor="start" fill="#1c1c1c" stroke="#1c1c1c" font-weight="bold">E</text>
<line x1="324.5" y1="15.299999999999997" x2="324.5" y2="85.0" stroke="#2a2a2a" stroke-width="1"/>
<line x1="321.7" y1="15.5" x2="324.5" y2="15.5" stroke="#2a2a2a" stroke-width="1"/>
<text x="320.7" y="19.194999999999997" font-size="9" text-anchor="end" fill="#1c1c1c" stroke="#1c1c1c" textLength="9.6" lengthAdjust="spacingAndGlyphs" style="stroke-width:0.2px">50</text>
<line x1="321.7" y1="50.5" x2="324.5" y2="50.5" stroke="#2a2a2a" stroke-width="1"/>
<text x="320.7" y="53.545" font-size="9" text-anchor="end" fill="#1c1c1c" stroke="#1c1c1c" textLength="9.6" lengthAdjust="spacingAndGlyphs" style="stroke-width:0.2px">25</text>
<line x1="321.7" y1="84.5" x2="324.5" y2="84.5" stroke="#2a2a2a" stroke-width="1"/>
<text x="320.7" y="87.895" font-size="9" text-anchor="end" fill="#1c1c1c" stroke="#1c1c1c" textLength="4.8" lengthAdjust="spacingAndGlyphs" style="stroke-width:0.2px">0</text>
<line x1="321.7" y1="32.5" x2="324.5" y2="32.5" stroke="#2a2a2a" stroke-width="1"/>
<line x1="321.7" y1="67.5" x2="324.5" y2="67.5" stroke="#2a2a2a" stroke-width="1"/>
<line x1="322" y1="84.5" x2="356" y2="84.5" stroke="#2a2a2a" stroke-width="1"/>
<rect x="329.79999999999995" y="23.5" width="5.4" height="61.0" fill="#fff" stroke="#222" stroke-width="0.8"/>
<line x1="332.5" y1="20.6" x2="332.5" y2="23.1" stroke="#222" stroke-width="0.9"/>
<line x1="330.4" y1="20.5" x2="334.4" y2="20.5" stroke="#222" stroke-width="0.9"/>
<rect x="335.4" y="55.6" width="6.300000000000011" height="28.9" fill="#050505"/>
<line x1="338.5" y1="54.4" x2="338.5" y2="55.6" stroke="#222" stroke-width="0.9"/>
<line x1="336.54999999999995" y1="54.5" x2="340.54999999999995" y2="54.5" stroke="#222" stroke-width="0.9"/>
<rect x="342.0" y="25.8" width="5.500000000000034" height="58.7" fill="#a2a2a2" stroke="#858585" stroke-width="0.6"/>
<line x1="344.5" y1="24.4" x2="344.5" y2="25.5" stroke="#222" stroke-width="0.9"/>
<line x1="342.65" y1="24.5" x2="346.65" y2="24.5" stroke="#222" stroke-width="0.9"/>
<rect x="347.95000000000005" y="44.75" width="5.399999999999966" height="39.75" fill="url(#dg)" stroke="#1a1a1a" stroke-width="0.7"/>
<line x1="350.5" y1="42.5" x2="350.5" y2="44.4" stroke="#222" stroke-width="0.9"/>
<line x1="348.65" y1="42.5" x2="352.65" y2="42.5" stroke="#222" stroke-width="0.9"/>
<line x1="332" y1="11.5" x2="353.5" y2="11.5" stroke="#333" stroke-width="0.9"/>
<text x="343.1" y="11.908" font-size="6.8" text-anchor="middle" fill="#1c1c1c" stroke="#1c1c1c" style="stroke-width:0.3px">*</text>
<line x1="331.6" y1="18.5" x2="339.8" y2="18.5" stroke="#333" stroke-width="0.9"/>
<text x="335.4" y="17.808" font-size="6.8" text-anchor="middle" fill="#1c1c1c" stroke="#1c1c1c" style="stroke-width:0.3px">*</text>
<text x="306.2" y="48" font-size="9" text-anchor="middle" fill="#1c1c1c" stroke="#1c1c1c" textLength="62.5" lengthAdjust="spacingAndGlyphs" transform="rotate(-90 306.2 48)">G<tspan font-size="5" dy="2">0</tspan><tspan dy="-2"> / G</tspan><tspan font-size="5" dy="2">0</tspan><tspan dy="-2">+G</tspan><tspan font-size="5" dy="2">1</tspan><tspan dy="-2"> (%)</tspan></text>
<line x1="397.5" y1="11.5" x2="397.5" y2="84.5" stroke="#2a2a2a" stroke-width="1"/>
<line x1="394.7" y1="12.5" x2="397.5" y2="12.5" stroke="#2a2a2a" stroke-width="1"/>
<text x="393.7" y="15.395" font-size="9" text-anchor="end" fill="#1c1c1c" stroke="#1c1c1c" textLength="9.6" lengthAdjust="spacingAndGlyphs" style="stroke-width:0.2px">50</text>
<line x1="394.7" y1="48.5" x2="397.5" y2="48.5" stroke="#2a2a2a" stroke-width="1"/>
<text x="393.7" y="51.395" font-size="9" text-anchor="end" fill="#1c1c1c" stroke="#1c1c1c" textLength="9.6" lengthAdjust="spacingAndGlyphs" style="stroke-width:0.2px">25</text>
<line x1="394.7" y1="84.5" x2="397.5" y2="84.5" stroke="#2a2a2a" stroke-width="1"/>
<text x="393.7" y="87.395" font-size="9" text-anchor="end" fill="#1c1c1c" stroke="#1c1c1c" textLength="4.8" lengthAdjust="spacingAndGlyphs" style="stroke-width:0.2px">0</text>
<line x1="394.7" y1="30.5" x2="397.5" y2="30.5" stroke="#2a2a2a" stroke-width="1"/>
<line x1="394.7" y1="66.5" x2="397.5" y2="66.5" stroke="#2a2a2a" stroke-width="1"/>
<line x1="395" y1="84.5" x2="432" y2="84.5" stroke="#2a2a2a" stroke-width="1"/>
<rect x="402.7" y="63.5" width="5.099999999999989" height="20.5" fill="#fff" stroke="#222" stroke-width="0.8"/>
<line x1="405.5" y1="60.6" x2="405.5" y2="63.1" stroke="#222" stroke-width="0.9"/>
<line x1="403.15" y1="60.5" x2="407.15" y2="60.5" stroke="#222" stroke-width="0.9"/>
<rect x="408" y="38.8" width="6" height="45.2" fill="#050505"/>
<line x1="411.5" y1="34.4" x2="411.5" y2="38.8" stroke="#222" stroke-width="0.9"/>
<line x1="409.0" y1="34.5" x2="413.0" y2="34.5" stroke="#222" stroke-width="0.9"/>
<rect x="414.3" y="27.2" width="5.6" height="56.800000000000004" fill="#a2a2a2" stroke="#858585" stroke-width="0.6"/>
<line x1="417.5" y1="21.5" x2="417.5" y2="26.9" stroke="#222" stroke-width="0.9"/>
<line x1="415.0" y1="21.5" x2="419.0" y2="21.5" stroke="#222" stroke-width="0.9"/>
<rect x="420.35" y="43.35" width="4.900000000000023" height="40.65" fill="url(#dg)" stroke="#1a1a1a" stroke-width="0.7"/>
<line x1="422.5" y1="36.9" x2="422.5" y2="43" stroke="#222" stroke-width="0.9"/>
<line x1="420.8" y1="36.5" x2="424.8" y2="36.5" stroke="#222" stroke-width="0.9"/>
<line x1="402.5" y1="12.5" x2="425" y2="12.5" stroke="#333" stroke-width="0.9"/>
<text x="413" y="12.608" font-size="6.8" text-anchor="middle" fill="#1c1c1c" stroke="#1c1c1c" style="stroke-width:0.3px">*</text>
<line x1="404" y1="30.5" x2="411.9" y2="30.5" stroke="#333" stroke-width="0.9"/>
<text x="408" y="29.408" font-size="6.8" text-anchor="middle" fill="#1c1c1c" stroke="#1c1c1c" style="stroke-width:0.3px">*</text>
<text x="377.7" y="49.5" font-size="9" text-anchor="middle" fill="#1c1c1c" stroke="#1c1c1c" textLength="72.5" lengthAdjust="spacingAndGlyphs" transform="rotate(-90 377.7 49.5)">S/G<tspan font-size="5" dy="2">2</tspan><tspan dy="-2">/M phase (%)</tspan></text>
<rect x="432.40000000000003" y="17.5" width="7.8" height="7.3" fill="#fff" stroke="#1a1a1a" stroke-width="1.2"/>
<rect x="431.8" y="26.9" width="9" height="8.100000000000001" fill="#050505"/>
<rect x="431.8" y="37.3" width="9" height="7.5" fill="#a2a2a2"/>
<rect x="431.8" y="46.9" width="9" height="7.899999999999999" fill="url(#dgl)"/>
<text x="444.6" y="24.2" font-size="8.8" text-anchor="start" fill="#1c1c1c" stroke="#1c1c1c" textLength="8.5" lengthAdjust="spacingAndGlyphs" style="stroke-width:0.02px">wt</text>
<text x="444.6" y="33.8" font-size="8.8" text-anchor="start" fill="#1c1c1c" stroke="#1c1c1c" font-style="italic" textLength="31.4" lengthAdjust="spacingAndGlyphs" style="stroke-width:0.1px">PLC-<tspan font-style="normal">β</tspan>3<tspan font-size="6.34" dy="-3.7" letter-spacing="0.7">-/-</tspan></text>
<text x="444.6" y="43.599999999999994" font-size="8.8" text-anchor="start" fill="#1c1c1c" stroke="#1c1c1c" font-style="italic" textLength="18.6" lengthAdjust="spacingAndGlyphs" style="stroke-width:0.1px">lyn<tspan font-size="6.34" dy="-3.7" letter-spacing="0.7">-/-</tspan></text>
<text x="444.6" y="53.599999999999994" font-size="8.8" text-anchor="start" fill="#1c1c1c" stroke="#1c1c1c" font-style="italic" textLength="54.6" lengthAdjust="spacingAndGlyphs" style="stroke-width:0.1px">lyn<tspan font-size="6.34" dy="-3.7" letter-spacing="0.7">-/-</tspan><tspan dy="3.7">;PLC-</tspan><tspan font-style="normal">β</tspan>3<tspan font-size="6.34" dy="-3.7" letter-spacing="0.7">-/-</tspan></text>
<text x="244.8" y="113.0" font-size="11.6" text-anchor="start" fill="#1c1c1c" stroke="#1c1c1c" font-weight="bold">F</text>
<line x1="274.5" y1="119.72" x2="274.5" y2="204.0" stroke="#2a2a2a" stroke-width="1"/>
<line x1="271.7" y1="120.5" x2="274.5" y2="120.5" stroke="#2a2a2a" stroke-width="1"/>
<text x="270.7" y="123.615" font-size="9" text-anchor="end" fill="#1c1c1c" stroke="#1c1c1c" textLength="14.399999999999999" lengthAdjust="spacingAndGlyphs" style="stroke-width:0.2px">800</text>
<line x1="271.7" y1="161.5" x2="274.5" y2="161.5" stroke="#2a2a2a" stroke-width="1"/>
<text x="270.7" y="165.255" font-size="9" text-anchor="end" fill="#1c1c1c" stroke="#1c1c1c" textLength="14.399999999999999" lengthAdjust="spacingAndGlyphs" style="stroke-width:0.2px">400</text>
<line x1="271.7" y1="203.5" x2="274.5" y2="203.5" stroke="#2a2a2a" stroke-width="1"/>
<text x="270.7" y="206.89499999999998" font-size="9" text-anchor="end" fill="#1c1c1c" stroke="#1c1c1c" textLength="4.8" lengthAdjust="spacingAndGlyphs" style="stroke-width:0.2px">0</text>
<line x1="271.7" y1="141.5" x2="274.5" y2="141.5" stroke="#2a2a2a" stroke-width="1"/>
<line x1="271.7" y1="182.5" x2="274.5" y2="182.5" stroke="#2a2a2a" stroke-width="1"/>
<line x1="271" y1="203.5" x2="355.4" y2="203.5" stroke="#2a2a2a" stroke-width="1"/>
<rect x="280.7" y="196.0" width="5.4" height="7.500000000000005" fill="#fff" stroke="#222" stroke-width="0.8"/>
<rect x="286.3" y="188.1" width="6.800000000000011" height="15.400000000000006" fill="#050505"/>
<line x1="289.5" y1="185" x2="289.5" y2="188.1" stroke="#222" stroke-width="0.9"/>
<line x1="287.70000000000005" y1="185.5" x2="291.70000000000005" y2="185.5" stroke="#222" stroke-width="0.9"/>
<rect x="293.40000000000003" y="187.60000000000002" width="6.499999999999977" height="15.899999999999988" fill="#a2a2a2" stroke="#858585" stroke-width="0.6"/>
<line x1="296.5" y1="184" x2="296.5" y2="187.3" stroke="#222" stroke-width="0.9"/>
<line x1="294.55" y1="184.5" x2="298.55" y2="184.5" stroke="#222" stroke-width="0.9"/>
<rect x="300.35" y="181.85" width="5.8" height="21.65" fill="url(#dg)" stroke="#1a1a1a" stroke-width="0.7"/>
<line x1="303.5" y1="177.5" x2="303.5" y2="181.5" stroke="#222" stroke-width="0.9"/>
<line x1="301.25" y1="177.5" x2="305.25" y2="177.5" stroke="#222" stroke-width="0.9"/>
<rect x="318.9" y="170.8" width="5.299999999999978" height="32.699999999999996" fill="#fff" stroke="#222" stroke-width="0.8"/>
<line x1="321.5" y1="164.8" x2="321.5" y2="170.4" stroke="#222" stroke-width="0.9"/>
<line x1="319.45" y1="164.5" x2="323.45" y2="164.5" stroke="#222" stroke-width="0.9"/>
<rect x="324.4" y="156" width="6.900000000000034" height="47.5" fill="#050505"/>
<line x1="327.5" y1="148.5" x2="327.5" y2="156" stroke="#222" stroke-width="0.9"/>
<line x1="325.85" y1="148.5" x2="329.85" y2="148.5" stroke="#222" stroke-width="0.9"/>
<rect x="331.6" y="149.8" width="5.900000000000011" height="53.7" fill="#a2a2a2" stroke="#858585" stroke-width="0.6"/>
<line x1="334.5" y1="144.8" x2="334.5" y2="149.5" stroke="#222" stroke-width="0.9"/>
<line x1="332.45000000000005" y1="144.5" x2="336.45000000000005" y2="144.5" stroke="#222" stroke-width="0.9"/>
<rect x="337.95000000000005" y="127.64999999999999" width="6.099999999999954" height="75.85000000000001" fill="url(#dg)" stroke="#1a1a1a" stroke-width="0.7"/>
<line x1="341.5" y1="118.1" x2="341.5" y2="127.3" stroke="#222" stroke-width="0.9"/>
<line x1="339.0" y1="118.5" x2="343.0" y2="118.5" stroke="#222" stroke-width="0.9"/>
<line x1="281.3" y1="169.5" x2="303.8" y2="169.5" stroke="#333" stroke-width="0.9"/>
<text x="293.1" y="169.408" font-size="6.8" text-anchor="middle" fill="#1c1c1c" stroke="#1c1c1c" style="stroke-width:0.3px">*</text>
<line x1="281.3" y1="175.5" x2="296.9" y2="175.5" stroke="#333" stroke-width="0.9"/>
<text x="288.1" y="176.308" font-size="6.8" text-anchor="middle" fill="#1c1c1c" stroke="#1c1c1c" style="stroke-width:0.3px">*</text>
<line x1="281.3" y1="182.5" x2="289.4" y2="182.5" stroke="#333" stroke-width="0.9"/>
<text x="285.6" y="182.308" font-size="6.8" text-anchor="middle" fill="#1c1c1c" stroke="#1c1c1c" style="stroke-width:0.3px">*</text>
<line x1="331.3" y1="113.5" x2="338.8" y2="113.5" stroke="#333" stroke-width="0.9"/>
<text x="335.6" y="114.408" font-size="6.8" text-anchor="middle" fill="#1c1c1c" stroke="#1c1c1c" style="stroke-width:0.3px">*</text>
<text x="297" y="213.9" font-size="8.4" text-anchor="middle" fill="#1c1c1c" stroke="#1c1c1c">0</text>
<text x="330.4" y="213.9" font-size="8.4" text-anchor="middle" fill="#1c1c1c" stroke="#1c1c1c" textLength="13.2" lengthAdjust="spacingAndGlyphs">100</text>
<text x="292.3" y="225" font-size="8.6" text-anchor="start" fill="#1c1c1c" stroke="#1c1c1c" textLength="47" lengthAdjust="spacingAndGlyphs">IL-3 (ng/mL)</text>
<text x="249.8" y="156" font-size="8.6" text-anchor="middle" fill="#1c1c1c" stroke="#1c1c1c" textLength="56.5" lengthAdjust="spacingAndGlyphs" transform="rotate(-90 249.8 156)">MFI of p-Stat5</text>
<text x="372.8" y="113.0" font-size="11.6" text-anchor="start" fill="#1c1c1c" stroke="#1c1c1c" font-weight="bold">G</text>
<line x1="400.5" y1="121.1" x2="400.5" y2="202.5" stroke="#2a2a2a" stroke-width="1"/>
<line x1="397.7" y1="121.5" x2="400.5" y2="121.5" stroke="#2a2a2a" stroke-width="1"/>
<text x="396.7" y="124.99499999999999" font-size="9" text-anchor="end" fill="#1c1c1c" stroke="#1c1c1c" textLength="9.6" lengthAdjust="spacingAndGlyphs" style="stroke-width:0.2px">30</text>
<line x1="397.7" y1="148.5" x2="400.5" y2="148.5" stroke="#2a2a2a" stroke-width="1"/>
<text x="396.7" y="151.795" font-size="9" text-anchor="end" fill="#1c1c1c" stroke="#1c1c1c" textLength="9.6" lengthAdjust="spacingAndGlyphs" style="stroke-width:0.2px">20</text>
<line x1="397.7" y1="175.5" x2="400.5" y2="175.5" stroke="#2a2a2a" stroke-width="1"/>
<text x="396.7" y="178.59499999999997" font-size="9" text-anchor="end" fill="#1c1c1c" stroke="#1c1c1c" textLength="9.6" lengthAdjust="spacingAndGlyphs" style="stroke-width:0.2px">10</text>
<line x1="397.7" y1="202.5" x2="400.5" y2="202.5" stroke="#2a2a2a" stroke-width="1"/>
<text x="396.7" y="205.39499999999998" font-size="9" text-anchor="end" fill="#1c1c1c" stroke="#1c1c1c" textLength="4.8" lengthAdjust="spacingAndGlyphs" style="stroke-width:0.2px">0</text>
<line x1="397.7" y1="135.5" x2="400.5" y2="135.5" stroke="#2a2a2a" stroke-width="1"/>
<line x1="397.7" y1="161.5" x2="400.5" y2="161.5" stroke="#2a2a2a" stroke-width="1"/>
<line x1="397.7" y1="188.5" x2="400.5" y2="188.5" stroke="#2a2a2a" stroke-width="1"/>
<line x1="398" y1="201.5" x2="506.5" y2="201.5" stroke="#2a2a2a" stroke-width="1"/>
<rect x="408.5" y="201.0" width="6.299999999999978" height="1.0000000000000058" fill="#fff" stroke="#222" stroke-width="0.8"/>
<rect x="415" y="198.1" width="6.300000000000011" height="3.9000000000000057" fill="#050505"/>
<rect x="421.6" y="196.3" width="5.1999999999999655" height="5.7" fill="#a2a2a2" stroke="#858585" stroke-width="0.6"/>
<rect x="427.25" y="191.65" width="5.500000000000045" height="10.349999999999989" fill="url(#dg)" stroke="#1a1a1a" stroke-width="0.7"/>
<line x1="430.5" y1="190" x2="430.5" y2="191.3" stroke="#222" stroke-width="0.9"/>
<line x1="428.0" y1="190.5" x2="432.0" y2="190.5" stroke="#222" stroke-width="0.9"/>
<rect x="445.79999999999995" y="188.5" width="5.500000000000023" height="13.500000000000005" fill="#fff" stroke="#222" stroke-width="0.8"/>
<line x1="448.5" y1="186" x2="448.5" y2="188.1" stroke="#222" stroke-width="0.9"/>
<line x1="446.45" y1="186.5" x2="450.45" y2="186.5" stroke="#222" stroke-width="0.9"/>
<rect x="451.5" y="166.3" width="6.300000000000011" height="35.69999999999999" fill="#050505"/>
<line x1="454.5" y1="163.8" x2="454.5" y2="166.3" stroke="#222" stroke-width="0.9"/>
<line x1="452.65" y1="163.5" x2="456.65" y2="163.5" stroke="#222" stroke-width="0.9"/>
<rect x="458.1" y="152.70000000000002" width="5.799999999999988" height="49.3" fill="#a2a2a2" stroke="#858585" stroke-width="0.6"/>
<line x1="460.5" y1="149.4" x2="460.5" y2="152.4" stroke="#222" stroke-width="0.9"/>
<line x1="458.9" y1="149.5" x2="462.9" y2="149.5" stroke="#222" stroke-width="0.9"/>
<rect x="464.35" y="128.45" width="5.3" height="73.55000000000001" fill="url(#dg)" stroke="#1a1a1a" stroke-width="0.7"/>
<line x1="467.5" y1="124.4" x2="467.5" y2="128.1" stroke="#222" stroke-width="0.9"/>
<line x1="465.0" y1="124.5" x2="469.0" y2="124.5" stroke="#222" stroke-width="0.9"/>
<rect x="482.9" y="187.9" width="5.4" height="14.1" fill="#fff" stroke="#222" stroke-width="0.8"/>
<line x1="485.5" y1="186" x2="485.5" y2="187.5" stroke="#222" stroke-width="0.9"/>
<line x1="483.5" y1="186.5" x2="487.5" y2="186.5" stroke="#222" stroke-width="0.9"/>
<rect x="488.5" y="171.3" width="6.300000000000011" height="30.69999999999999" fill="#050505"/>
<line x1="491.5" y1="164.4" x2="491.5" y2="171.3" stroke="#222" stroke-width="0.9"/>
<line x1="489.65" y1="164.5" x2="493.65" y2="164.5" stroke="#222" stroke-width="0.9"/>
<rect x="495.1" y="152.8" width="5.1999999999999655" height="49.2" fill="#a2a2a2" stroke="#858585" stroke-width="0.6"/>
<line x1="497.5" y1="147.3" x2="497.5" y2="152.5" stroke="#222" stroke-width="0.9"/>
<line x1="495.6" y1="147.5" x2="499.6" y2="147.5" stroke="#222" stroke-width="0.9"/>
<rect x="500.75" y="122.64999999999999" width="5.8" height="79.35000000000001" fill="url(#dg)" stroke="#1a1a1a" stroke-width="0.7"/>
<line x1="503.5" y1="118.5" x2="503.5" y2="122.3" stroke="#222" stroke-width="0.9"/>
<line x1="501.65" y1="118.5" x2="505.65" y2="118.5" stroke="#222" stroke-width="0.9"/>
<line x1="408.1" y1="183.5" x2="428.8" y2="183.5" stroke="#333" stroke-width="0.9"/>
<text x="418.8" y="182.808" font-size="6.8" text-anchor="middle" fill="#1c1c1c" stroke="#1c1c1c" style="stroke-width:0.3px">*</text>
<line x1="408.1" y1="189.5" x2="424.8" y2="189.5" stroke="#333" stroke-width="0.9"/>
<text x="416.9" y="189.808" font-size="6.8" text-anchor="middle" fill="#1c1c1c" stroke="#1c1c1c" style="stroke-width:0.3px">*</text>
<line x1="408.1" y1="195.5" x2="416.9" y2="195.5" stroke="#333" stroke-width="0.9"/>
<text x="413.1" y="196.608" font-size="6.8" text-anchor="middle" fill="#1c1c1c" stroke="#1c1c1c" style="stroke-width:0.3px">*</text>
<line x1="445" y1="157.5" x2="454.8" y2="157.5" stroke="#333" stroke-width="0.9"/>
<text x="450.3" y="156.908" font-size="6.8" text-anchor="middle" fill="#1c1c1c" stroke="#1c1c1c" style="stroke-width:0.3px">*</text>
<line x1="444.8" y1="144.5" x2="460.6" y2="144.5" stroke="#333" stroke-width="0.9"/>
<text x="453.1" y="143.208" font-size="6.8" text-anchor="middle" fill="#1c1c1c" stroke="#1c1c1c" style="stroke-width:0.3px">*</text>
<line x1="460" y1="119.5" x2="468.1" y2="119.5" stroke="#333" stroke-width="0.9"/>
<text x="464.2" y="118.00800000000001" font-size="6.8" text-anchor="middle" fill="#1c1c1c" stroke="#1c1c1c" style="stroke-width:0.3px">*</text>
<line x1="483" y1="159.5" x2="491" y2="159.5" stroke="#333" stroke-width="0.9"/>
<text x="487.5" y="157.308" font-size="6.8" text-anchor="middle" fill="#1c1c1c" stroke="#1c1c1c" style="stroke-width:0.3px">*</text>
<line x1="496.3" y1="115.5" x2="504.4" y2="115.5" stroke="#333" stroke-width="0.9"/>
<text x="499.4" y="114.408" font-size="6.8" text-anchor="middle" fill="#1c1c1c" stroke="#1c1c1c" style="stroke-width:0.3px">*</text>
<text x="427" y="212.3" font-size="8.4" text-anchor="middle" fill="#1c1c1c" stroke="#1c1c1c">0</text>
<text x="456.5" y="212.3" font-size="8.4" text-anchor="middle" fill="#1c1c1c" stroke="#1c1c1c">1</text>
<text x="498" y="212.3" font-size="8.4" text-anchor="middle" fill="#1c1c1c" stroke="#1c1c1c">10</text>
<text x="437.4" y="223.2" font-size="8.6" text-anchor="start" fill="#1c1c1c" stroke="#1c1c1c" textLength="48.5" lengthAdjust="spacingAndGlyphs">IL-3 (ng/mL)</text>
<text x="377.6" y="156.8" font-size="8.6" text-anchor="middle" fill="#1c1c1c" stroke="#1c1c1c" textLength="70" lengthAdjust="spacingAndGlyphs" transform="rotate(-90 377.6 156.8)">number of colony</text>
<text x="244.4" y="245.20000000000002" font-size="11.6" text-anchor="start" fill="#1c1c1c" stroke="#1c1c1c" font-weight="bold">H</text>
<line x1="274.5" y1="250.75" x2="274.5" y2="339.9" stroke="#2a2a2a" stroke-width="1"/>
<line x1="272.2" y1="251.5" x2="274.5" y2="251.5" stroke="#2a2a2a" stroke-width="1"/>
<text x="271.59999999999997" y="254.64499999999998" font-size="9" text-anchor="end" fill="#1c1c1c" stroke="#1c1c1c" textLength="12.75" lengthAdjust="spacingAndGlyphs" style="stroke-width:0.2px">100</text>
<line x1="272.2" y1="268.5" x2="274.5" y2="268.5" stroke="#2a2a2a" stroke-width="1"/>
<text x="271.59999999999997" y="272.17499999999995" font-size="9" text-anchor="end" fill="#1c1c1c" stroke="#1c1c1c" textLength="8.5" lengthAdjust="spacingAndGlyphs" style="stroke-width:0.2px">80</text>
<line x1="272.2" y1="286.5" x2="274.5" y2="286.5" stroke="#2a2a2a" stroke-width="1"/>
<text x="271.59999999999997" y="289.705" font-size="9" text-anchor="end" fill="#1c1c1c" stroke="#1c1c1c" textLength="8.5" lengthAdjust="spacingAndGlyphs" style="stroke-width:0.2px">60</text>
<line x1="272.2" y1="303.5" x2="274.5" y2="303.5" stroke="#2a2a2a" stroke-width="1"/>
<text x="271.59999999999997" y="307.23499999999996" font-size="9" text-anchor="end" fill="#1c1c1c" stroke="#1c1c1c" textLength="8.5" lengthAdjust="spacingAndGlyphs" style="stroke-width:0.2px">40</text>
<line x1="272.2" y1="321.5" x2="274.5" y2="321.5" stroke="#2a2a2a" stroke-width="1"/>
<text x="271.59999999999997" y="324.765" font-size="9" text-anchor="end" fill="#1c1c1c" stroke="#1c1c1c" textLength="8.5" lengthAdjust="spacingAndGlyphs" style="stroke-width:0.2px">20</text>
<line x1="272.2" y1="338.5" x2="274.5" y2="338.5" stroke="#2a2a2a" stroke-width="1"/>
<text x="271.59999999999997" y="342.29499999999996" font-size="9" text-anchor="end" fill="#1c1c1c" stroke="#1c1c1c" textLength="4.25" lengthAdjust="spacingAndGlyphs" style="stroke-width:0.2px">0</text>
<line x1="272.2" y1="260.5" x2="274.5" y2="260.5" stroke="#2a2a2a" stroke-width="1"/>
<line x1="272.2" y1="277.5" x2="274.5" y2="277.5" stroke="#2a2a2a" stroke-width="1"/>
<line x1="272.2" y1="295.5" x2="274.5" y2="295.5" stroke="#2a2a2a" stroke-width="1"/>
<line x1="272.2" y1="312.5" x2="274.5" y2="312.5" stroke="#2a2a2a" stroke-width="1"/>
<line x1="272.2" y1="330.5" x2="274.5" y2="330.5" stroke="#2a2a2a" stroke-width="1"/>
<line x1="272" y1="339.5" x2="341.5" y2="339.5" stroke="#2a2a2a" stroke-width="1"/>
<line x1="275.5" y1="339.4" x2="275.5" y2="342.5" stroke="#2a2a2a" stroke-width="1"/>
<text x="275.0" y="350.2" font-size="8.6" text-anchor="middle" fill="#1c1c1c" stroke="#1c1c1c">0</text>
<line x1="287.5" y1="339.4" x2="287.5" y2="342.5" stroke="#2a2a2a" stroke-width="1"/>
<text x="287.75" y="350.2" font-size="8.6" text-anchor="middle" fill="#1c1c1c" stroke="#1c1c1c">1</text>
<line x1="300.5" y1="339.4" x2="300.5" y2="342.5" stroke="#2a2a2a" stroke-width="1"/>
<text x="300.5" y="350.2" font-size="8.6" text-anchor="middle" fill="#1c1c1c" stroke="#1c1c1c">2</text>
<line x1="313.5" y1="339.4" x2="313.5" y2="342.5" stroke="#2a2a2a" stroke-width="1"/>
<text x="313.25" y="350.2" font-size="8.6" text-anchor="middle" fill="#1c1c1c" stroke="#1c1c1c">3</text>
<line x1="326.5" y1="339.4" x2="326.5" y2="342.5" stroke="#2a2a2a" stroke-width="1"/>
<text x="326.0" y="350.2" font-size="8.6" text-anchor="middle" fill="#1c1c1c" stroke="#1c1c1c">4</text>
<line x1="338.5" y1="339.4" x2="338.5" y2="342.5" stroke="#2a2a2a" stroke-width="1"/>
<text x="338.75" y="350.2" font-size="8.6" text-anchor="middle" fill="#1c1c1c" stroke="#1c1c1c">5</text>
<text x="273.6" y="361.3" font-size="9.2" text-anchor="start" fill="#1c1c1c" stroke="#1c1c1c" textLength="67.4" lengthAdjust="spacingAndGlyphs">days post sorting</text>
<text x="257.6" y="294.4" font-size="8.8" text-anchor="middle" fill="#1c1c1c" stroke="#1c1c1c" textLength="45" lengthAdjust="spacingAndGlyphs" transform="rotate(-90 257.6 294.4)">cell number</text>
<polyline points="275,295 288.1,297.5 300.6,292.8 313.1,280.6 325.6,272.3 338.8,257.8" fill="none" stroke="#111" stroke-width="1.0"/>
<polyline points="275,295 288.1,321.3 300.6,328.8 313.1,336.5 325.6,337.5 338.8,338.3" fill="none" stroke="#111" stroke-width="1.2"/>
<line x1="300.5" y1="291.3" x2="300.5" y2="294.3" stroke="#222" stroke-width="0.9"/>
<line x1="299.1" y1="291.5" x2="302.1" y2="291.5" stroke="#222" stroke-width="0.9"/>
<line x1="299.1" y1="294.5" x2="302.1" y2="294.5" stroke="#222" stroke-width="0.9"/>
<line x1="313.5" y1="277.1" x2="313.5" y2="284.1" stroke="#222" stroke-width="0.9"/>
<line x1="311.6" y1="277.5" x2="314.6" y2="277.5" stroke="#222" stroke-width="0.9"/>
<line x1="311.6" y1="284.5" x2="314.6" y2="284.5" stroke="#222" stroke-width="0.9"/>
<line x1="325.5" y1="267.3" x2="325.5" y2="277.3" stroke="#222" stroke-width="0.9"/>
<line x1="324.1" y1="267.5" x2="327.1" y2="267.5" stroke="#222" stroke-width="0.9"/>
<line x1="324.1" y1="277.5" x2="327.1" y2="277.5" stroke="#222" stroke-width="0.9"/>
<line x1="338.5" y1="251.3" x2="338.5" y2="264.3" stroke="#222" stroke-width="0.9"/>
<line x1="337.3" y1="251.5" x2="340.3" y2="251.5" stroke="#222" stroke-width="0.9"/>
<line x1="337.3" y1="264.5" x2="340.3" y2="264.5" stroke="#222" stroke-width="0.9"/>
<circle cx="288.1" cy="297.5" r="1.9" fill="#fff" stroke="#111" stroke-width="1"/>
<circle cx="300.6" cy="292.8" r="1.9" fill="#fff" stroke="#111" stroke-width="1"/>
<circle cx="313.1" cy="280.6" r="1.9" fill="#fff" stroke="#111" stroke-width="1"/>
<circle cx="325.6" cy="272.3" r="1.9" fill="#fff" stroke="#111" stroke-width="1"/>
<circle cx="338.8" cy="257.8" r="1.9" fill="#fff" stroke="#111" stroke-width="1"/>
<circle cx="288.1" cy="321.3" r="2.4" fill="#111"/>
<circle cx="300.6" cy="328.8" r="2.4" fill="#111"/>
<circle cx="313.1" cy="336.5" r="2.4" fill="#111"/>
<circle cx="325.6" cy="337.5" r="2.4" fill="#111"/>
<circle cx="338.8" cy="338.3" r="2.4" fill="#111"/>
<path d="M275 292 L278 295 L275 298 L272 295 Z" fill="#111"/>
<text x="288.5" y="318.1" font-size="7" text-anchor="middle" fill="#555" stroke="#555" style="stroke-width:0.3px">*</text>
<text x="300.6" y="326.20000000000005" font-size="7" text-anchor="middle" fill="#555" stroke="#555" style="stroke-width:0.3px">*</text>
<text x="313.1" y="333.70000000000005" font-size="7" text-anchor="middle" fill="#555" stroke="#555" style="stroke-width:0.3px">*</text>
<text x="325.6" y="335.90000000000003" font-size="7" text-anchor="middle" fill="#555" stroke="#555" style="stroke-width:0.3px">*</text>
<text x="338.8" y="336.6" font-size="7" text-anchor="middle" fill="#555" stroke="#555" style="stroke-width:0.3px">*</text>
<text x="339.4" y="273.2" font-size="9" text-anchor="start" fill="#1c1c1c" stroke="#1c1c1c" textLength="13.7" lengthAdjust="spacingAndGlyphs">vec</text>
<text x="313.5" y="322" font-size="9" text-anchor="start" fill="#1c1c1c" stroke="#1c1c1c" textLength="35.9" lengthAdjust="spacingAndGlyphs">DN Stat5</text>
<text x="375.4" y="244.0" font-size="11.6" text-anchor="start" fill="#1c1c1c" stroke="#1c1c1c" font-weight="bold">I</text>
<line x1="404.5" y1="242.5" x2="404.5" y2="343.6" stroke="#2a2a2a" stroke-width="1"/>
<line x1="401.7" y1="243.5" x2="404.5" y2="243.5" stroke="#2a2a2a" stroke-width="1"/>
<text x="400.7" y="246.39499999999998" font-size="9" text-anchor="end" fill="#1c1c1c" stroke="#1c1c1c" textLength="14.399999999999999" lengthAdjust="spacingAndGlyphs" style="stroke-width:0.2px">100</text>
<line x1="401.7" y1="262.5" x2="404.5" y2="262.5" stroke="#2a2a2a" stroke-width="1"/>
<text x="400.7" y="266.195" font-size="9" text-anchor="end" fill="#1c1c1c" stroke="#1c1c1c" textLength="9.6" lengthAdjust="spacingAndGlyphs" style="stroke-width:0.2px">80</text>
<line x1="401.7" y1="282.5" x2="404.5" y2="282.5" stroke="#2a2a2a" stroke-width="1"/>
<text x="400.7" y="285.995" font-size="9" text-anchor="end" fill="#1c1c1c" stroke="#1c1c1c" textLength="9.6" lengthAdjust="spacingAndGlyphs" style="stroke-width:0.2px">60</text>
<line x1="401.7" y1="302.5" x2="404.5" y2="302.5" stroke="#2a2a2a" stroke-width="1"/>
<text x="400.7" y="305.79499999999996" font-size="9" text-anchor="end" fill="#1c1c1c" stroke="#1c1c1c" textLength="9.6" lengthAdjust="spacingAndGlyphs" style="stroke-width:0.2px">40</text>
<line x1="401.7" y1="322.5" x2="404.5" y2="322.5" stroke="#2a2a2a" stroke-width="1"/>
<text x="400.7" y="325.59499999999997" font-size="9" text-anchor="end" fill="#1c1c1c" stroke="#1c1c1c" textLength="9.6" lengthAdjust="spacingAndGlyphs" style="stroke-width:0.2px">20</text>
<line x1="401.7" y1="342.5" x2="404.5" y2="342.5" stroke="#2a2a2a" stroke-width="1"/>
<text x="400.7" y="345.395" font-size="9" text-anchor="end" fill="#1c1c1c" stroke="#1c1c1c" textLength="4.8" lengthAdjust="spacingAndGlyphs" style="stroke-width:0.2px">0</text>
<line x1="404" y1="343.5" x2="497" y2="343.5" stroke="#2a2a2a" stroke-width="1"/>
<line x1="414.5" y1="343.1" x2="414.5" y2="345.8" stroke="#2a2a2a" stroke-width="1"/>
<text x="414.9" y="353.3" font-size="8" text-anchor="middle" fill="#1c1c1c" stroke="#1c1c1c">-</text>
<line x1="435.5" y1="343.1" x2="435.5" y2="345.8" stroke="#2a2a2a" stroke-width="1"/>
<text x="435.8" y="353.3" font-size="8" text-anchor="middle" fill="#1c1c1c" stroke="#1c1c1c">+</text>
<line x1="456.5" y1="343.1" x2="456.5" y2="345.8" stroke="#2a2a2a" stroke-width="1"/>
<text x="456.3" y="353.3" font-size="8" text-anchor="middle" fill="#1c1c1c" stroke="#1c1c1c">-</text>
<line x1="477.5" y1="343.1" x2="477.5" y2="345.8" stroke="#2a2a2a" stroke-width="1"/>
<text x="477.3" y="353.3" font-size="8" text-anchor="middle" fill="#1c1c1c" stroke="#1c1c1c">+</text>
<text x="390" y="353.8" font-size="8.4" text-anchor="start" fill="#1c1c1c" stroke="#1c1c1c" textLength="16.2" lengthAdjust="spacingAndGlyphs">GFP:</text>
<line x1="409.7" y1="355.5" x2="439.5" y2="355.5" stroke="#222" stroke-width="1"/>
<line x1="451.9" y1="355.5" x2="481.3" y2="355.5" stroke="#222" stroke-width="1"/>
<text x="424.4" y="365.5" font-size="8.4" text-anchor="middle" fill="#1c1c1c" stroke="#1c1c1c" textLength="11.8" lengthAdjust="spacingAndGlyphs">vec</text>
<text x="450.8" y="366.3" font-size="8.4" text-anchor="start" fill="#1c1c1c" stroke="#1c1c1c" textLength="32.2" lengthAdjust="spacingAndGlyphs">DN Stat5</text>
<text x="384.8" y="294.5" font-size="8.6" text-anchor="middle" fill="#1c1c1c" stroke="#1c1c1c" textLength="65" lengthAdjust="spacingAndGlyphs" transform="rotate(-90 384.8 294.5)">CD11b<tspan font-size="7" dy="-3.6">+</tspan><tspan dy="3.6"> cell (%)</tspan></text>
<line x1="453.8" y1="250.5" x2="481.9" y2="250.5" stroke="#333" stroke-width="0.9"/>
<text x="467.8" y="249.67999999999998" font-size="8" text-anchor="middle" fill="#1c1c1c" stroke="#1c1c1c" style="stroke-width:0.3px">**</text>
<circle cx="418.5" cy="272.9" r="2.1" fill="#111"/>
<circle cx="415" cy="275.6" r="2.1" fill="#111"/>
<circle cx="415" cy="281.9" r="2.1" fill="#111"/>
<circle cx="415" cy="290" r="2.1" fill="#111"/>
<line x1="408.1" y1="280.5" x2="421.9" y2="280.5" stroke="#111" stroke-width="1.1"/>
<line x1="415.5" y1="276.3" x2="415.5" y2="284" stroke="#111" stroke-width="1"/>
<line x1="411.5" y1="276.5" x2="418.5" y2="276.5" stroke="#111" stroke-width="1"/>
<line x1="411.5" y1="284.5" x2="418.5" y2="284.5" stroke="#111" stroke-width="1"/>
<rect x="429.9" y="271.1" width="4" height="4" fill="#111"/>
<rect x="433.6" y="271.1" width="4" height="4" fill="#111"/>
<rect x="437.4" y="269" width="4" height="4" fill="#111"/>
<rect x="433.6" y="281.5" width="4" height="4" fill="#111"/>
<line x1="429.4" y1="275.5" x2="443.1" y2="275.5" stroke="#111" stroke-width="1.1"/>
<line x1="436.5" y1="271.9" x2="436.5" y2="278.1" stroke="#111" stroke-width="1"/>
<line x1="432.7" y1="271.5" x2="439.7" y2="271.5" stroke="#111" stroke-width="1"/>
<line x1="432.7" y1="278.5" x2="439.7" y2="278.5" stroke="#111" stroke-width="1"/>
<path d="M456.5 254.59999999999997 L458.8 258.73999999999995 L454.2 258.73999999999995 Z" fill="#111"/>
<path d="M456.5 261.5 L458.8 265.64 L454.2 265.64 Z" fill="#111"/>
<path d="M456.5 264.59999999999997 L458.8 268.73999999999995 L454.2 268.73999999999995 Z" fill="#111"/>
<path d="M456.5 273.3 L458.8 277.44 L454.2 277.44 Z" fill="#111"/>
<path d="M456.5 280.2 L458.8 284.34 L454.2 284.34 Z" fill="#111"/>
<line x1="449.4" y1="270.5" x2="462.5" y2="270.5" stroke="#111" stroke-width="1.1"/>
<line x1="456.5" y1="266.3" x2="456.5" y2="274.4" stroke="#111" stroke-width="1"/>
<line x1="452.5" y1="266.5" x2="459.5" y2="266.5" stroke="#111" stroke-width="1"/>
<line x1="452.5" y1="274.5" x2="459.5" y2="274.5" stroke="#111" stroke-width="1"/>
<path d="M477.3 309.2 L479.6 305.06 L475.0 305.06 Z" fill="#111"/>
<path d="M480.6 314.6 L482.90000000000003 310.46000000000004 L478.3 310.46000000000004 Z" fill="#111"/>
<path d="M477.3 317.1 L479.6 312.96000000000004 L475.0 312.96000000000004 Z" fill="#111"/>
<path d="M473.8 331.1 L476.1 326.96000000000004 L471.5 326.96000000000004 Z" fill="#111"/>
<path d="M476.9 337.3 L479.2 333.16 L474.59999999999997 333.16 Z" fill="#111"/>
<path d="M480.3 337.3 L482.6 333.16 L478.0 333.16 Z" fill="#111"/>
<line x1="470" y1="322.5" x2="483.8" y2="322.5" stroke="#111" stroke-width="1.1"/>
<line x1="477.5" y1="318.5" x2="477.5" y2="326.9" stroke="#111" stroke-width="1"/>
<line x1="473.5" y1="318.5" x2="480.5" y2="318.5" stroke="#111" stroke-width="1"/>
<line x1="473.5" y1="326.5" x2="480.5" y2="326.5" stroke="#111" stroke-width="1"/>
</svg>
</body></html>
